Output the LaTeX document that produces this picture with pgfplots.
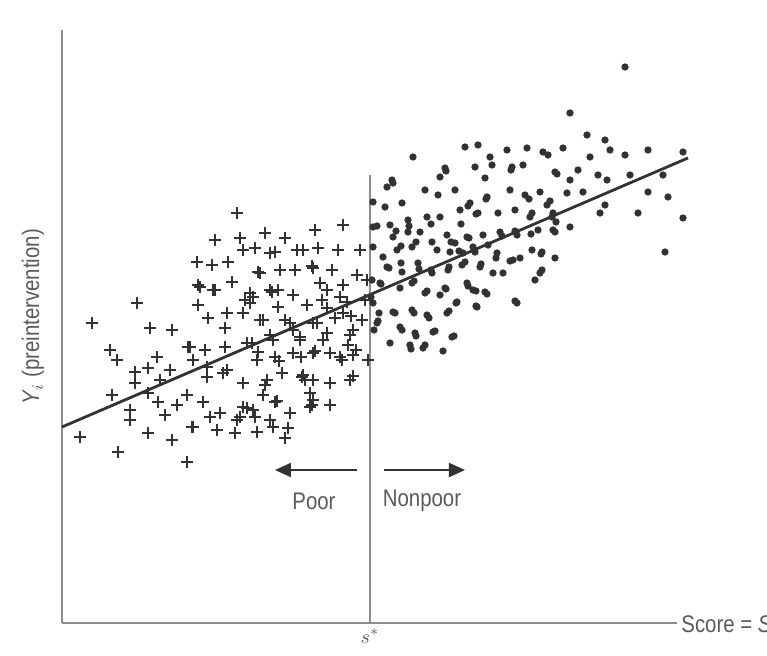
\documentclass[border=0pt]{standalone}
\usepackage{fontspec}
\setmainfont{Liberation Sans}[FakeStretch=0.85]
\usepackage{pgfplots}
\usepackage{pgfplotstable}
\pgfplotsset{compat=1.18}
\usetikzlibrary{arrows.meta}
\definecolor{axgray}{RGB}{140,140,140}
\definecolor{ink}{RGB}{50,50,50}
\definecolor{txtgray}{RGB}{90,90,90}

% points in pixel units (x, y from top)
\pgfplotstableread{
x py
80 437
92 323
110 350
117 360
112 395
118 452
130 420
135 372
135 383
137 303
148 368
148 393
148 433
150 328
157 357
158 402
165 415
170 370
172 330
172 440
177 405
187 395
187 462
188 347
192 427
193 360
203 402
205 350
207 377
210 417
198 285
213 290
198 305
208 318
237 213
215 240
197 262
212 265
228 262
200 287
215 290
232 282
227 313
255 248
265 233
275 252
285 238
297 250
315 230
343 225
338 250
260 273
280 270
295 270
313 268
332 270
357 275
250 293
270 290
278 307
293 295
307 305
327 290
343 285
243 313
263 320
252 343
273 340
293 330
313 323
327 333
343 313
353 330
257 360
275 357
293 353
313 353
330 353
342 360
353 355
368 360
243 383
267 380
282 373
302 377
313 380
330 383
350 380
227 370
207 367
220 413
243 407
253 410
275 402
290 413
310 407
330 405
237 420
217 430
235 433
257 432
273 427
288 428
285 438
190 347
225 347
225 328
253 297
320 283
340 297
278 290
193 427
240 417
270 420
305 380
313 400
223 373
270 253
303 250
322 300
130 410
160 380
365 300
362 320
367 280
240 238
245 300
348 345
285 320
300 340
360 250
318 248
243 250
250 303
347 302
260 320
290 323
317 323
335 318
351 316
247 343
270 335
300 337
323 340
350 335
258 352
279 361
301 357
315 351
340 357
356 350
265 385
303 375
353 376
263 395
310 393
277 401
312 405
247 408
255 417
272 292
258 272
312 266
327 308
}\poor

\pgfplotstableread{
x py
625 67
570 113
587 135
605 140
465 147
478 145
507 150
527 148
543 152
548 155
563 148
610 150
625 155
648 150
683 152
413 157
590 157
490 157
492 165
475 167
512 167
523 165
445 168
440 177
555 172
578 170
570 180
598 175
607 180
630 175
392 180
387 187
425 190
438 195
455 190
485 178
487 197
510 190
525 195
540 192
567 193
583 192
648 192
668 197
663 175
373 202
385 207
402 203
408 220
427 217
440 217
460 210
470 203
478 213
498 213
515 210
530 217
547 205
552 217
600 213
605 205
638 213
683 218
570 227
373 227
390 225
393 237
408 232
420 232
432 242
447 235
455 243
467 237
483 235
500 232
517 235
538 230
555 232
373 247
383 257
397 250
412 247
437 250
450 252
463 253
475 252
497 253
513 260
520 258
532 250
542 252
555 258
665 252
387 267
402 272
418 263
432 273
448 270
462 265
480 267
493 273
503 273
542 270
535 280
380 283
400 288
412 283
425 293
440 295
445 288
467 283
473 290
485 292
457 302
477 307
517 303
373 303
393 312
412 310
427 315
447 313
377 323
400 327
415 333
433 332
452 337
390 343
410 345
425 345
553 213
553 230
372 280
374 330
393 183
446 171
511 170
529 199
550 201
557 174
468 206
476 214
486 199
532 213
556 222
377 226
396 231
409 226
431 224
461 224
469 238
502 236
515 231
531 234
401 246
416 242
451 242
459 251
473 247
488 245
496 258
510 261
541 254
389 268
401 263
419 269
431 270
449 267
465 262
481 264
540 273
381 284
414 281
427 291
446 289
468 286
476 291
487 294
371 297
456 303
476 306
515 301
379 313
395 313
414 313
429 318
449 311
378 321
402 330
416 336
435 331
454 336
411 349
423 348
443 351
}\nonpoor

\begin{document}
\begin{tikzpicture}
\begin{axis}[
    x=0.5pt, y=0.5pt,
    xmin=62, xmax=677,
    ymin=32, ymax=625,
    axis lines=left,
    axis line style={axgray, line width=1pt, -},
    xtick={370}, xticklabels={$s^*$},
    ytick=\empty,
    major tick length=0pt,
    xticklabel style={text=txtgray, font=\normalsize, inner sep=1pt, yshift=-2pt},
    clip=false,
]
% region boundary and fitted line
\addplot[axgray, line width=0.8pt] coordinates {(370,32) (370,480)};
\addplot[ink, line width=1.4pt] coordinates {(62,228) (688,497)};

\addplot[only marks, mark=+, mark size=2.8pt, ink, mark options={line width=0.9pt}]
    table[x=x, y expr=655-\thisrow{py}] {\poor};
\addplot[only marks, mark=*, mark size=1.6pt, ink, mark options={draw=none, fill=ink}]
    table[x=x, y expr=655-\thisrow{py}] {\nonpoor};

\draw[ink, line width=1pt, -{Triangle[length=8pt, width=7pt]}]
    (axis cs:357,185) -- (axis cs:275,185);
\draw[ink, line width=1pt, -{Triangle[length=8pt, width=7pt]}]
    (axis cs:384,185) -- (axis cs:465,185);
\node[text=txtgray, font=\fontsize{12}{14}\selectfont] at (axis cs:314,154) {Poor};
\node[text=txtgray, font=\fontsize{12}{14}\selectfont] at (axis cs:422,154) {Nonpoor};

\node[text=txtgray, anchor=west, font=\fontsize{12}{14}\selectfont, inner sep=1pt]
    at (axis cs:679,29) {Score = \emph{S}$_i$};
\node[text=txtgray, rotate=90, font=\fontsize{12}{14}\selectfont]
    at (axis cs:33,338) {\emph{Y}$_i$ (preintervention)};

\coordinate (bbll) at (axis cs:0,0);
\coordinate (bbur) at (axis cs:767,655);
\end{axis}
\pgfresetboundingbox
\path[use as bounding box] (bbll) rectangle (bbur);
\end{tikzpicture}
\end{document}
